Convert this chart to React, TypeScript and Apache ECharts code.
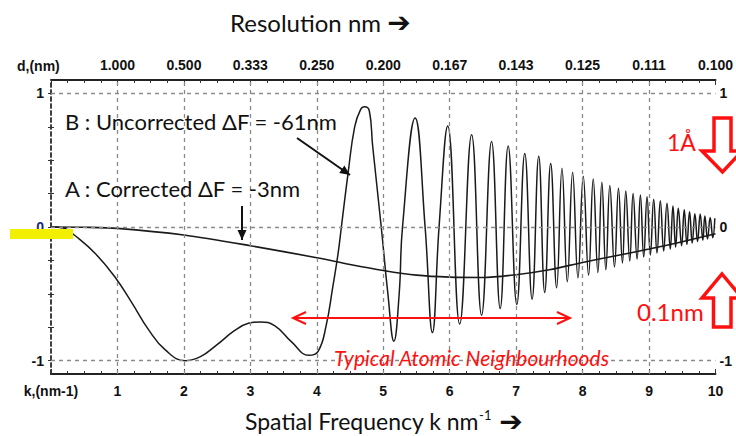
import React, { useEffect, useRef } from "react";
import * as echarts from "echarts";

// ---- data ----
const kLabels = ["", "1", "2", "3", "4", "5", "6", "7", "8", "9", "10"];
const dLabels = ["", "1.000", "0.500", "0.333", "0.250", "0.200", "0.167", "0.143", "0.125", "0.111", "0.100"];
const yLabelValues = [-1, 0, 1];
const yTickValues = [-1, -0.75, -0.5, -0.25, 0, 0.25, 0.5, 0.75, 1];
const gridK = [1, 2, 3, 4, 5, 6, 7, 8, 9];
const gridY = [-1, 0, 1];

// Curve A : Corrected dF = -3nm
const curveAK = [0, 0.5, 1, 2, 3, 4, 4.5, 5, 5.5, 6, 6.5, 7, 7.5, 8, 8.5, 9, 9.5, 10];
const curveAV = [0, -0.002, -0.01, -0.06, -0.14, -0.23, -0.28, -0.325, -0.36, -0.375, -0.378, -0.357, -0.32, -0.265, -0.215, -0.165, -0.11, -0.05];

// Curve B : Uncorrected dF = -61nm (extrema and crossings)
const curveBK = [
  0, 0.2, 0.35, 0.67, 0.97, 1.22, 1.47, 1.72, 2.02, 2.25, 2.5, 2.75, 2.97, 3.15, 3.37, 3.62, 3.88, 4.02,
  4.14, 4.24, 4.32, 4.37, 4.47, 4.57, 4.66, 4.72, 4.79, 4.84, 4.97, 5.07, 5.16, 5.24, 5.29, 5.48, 5.63,
  5.74, 5.84, 5.97, 6.15, 6.33, 6.48, 6.63, 6.76, 6.88, 7.01, 7.13, 7.24, 7.34, 7.43, 7.52, 7.61, 7.69,
  7.77, 7.85, 7.93, 8.01, 8.09, 8.16, 8.23, 8.29, 8.35, 8.41, 8.48, 8.54, 8.6, 8.65, 8.71, 8.76, 8.82,
  8.87, 8.92, 8.97, 9.02, 9.07, 9.12, 9.17, 9.22, 9.27, 9.32, 9.36, 9.4, 9.44, 9.49, 9.53, 9.57, 9.61,
  9.65, 9.69, 9.73, 9.77, 9.81, 9.84, 9.88, 9.92, 9.96, 9.99,
];
const curveBV = [
  0, -0.01, -0.06, -0.2, -0.38, -0.57, -0.77, -0.92, -1.0, -0.97, -0.88, -0.78, -0.72, -0.71, -0.74, -0.86, -0.96, -0.93,
  -0.74, -0.45, -0.2, 0.0, 0.4, 0.75, 0.88, 0.9, 0.87, 0.61, 0.0, -0.5, -0.855, -0.5, 0.0, 0.815, 0.0,
  -0.79, 0.0, 0.756, -0.726, 0.69, -0.66, 0.64, -0.61, 0.607, -0.58, 0.55, -0.54, 0.53, -0.49, 0.475, -0.455, 0.44,
  -0.41, 0.41, -0.38, 0.38, -0.36, 0.36, -0.34, 0.335, -0.32, 0.31, -0.3, 0.29, -0.27, 0.27, -0.255, 0.25, -0.24,
  0.24, -0.225, 0.226, -0.21, 0.207, -0.195, 0.196, -0.18, 0.177, -0.165, 0.157, -0.15, 0.14, -0.14, 0.13, -0.13, 0.114,
  -0.12, 0.1, -0.11, 0.097, -0.1, 0.082, -0.09, 0.072, -0.08, 0.065,
];

const RED = "#ff1010";
const LBL = "'Liberation Sans', Arial, sans-serif";
const CAL = "Lato, 'DejaVu Sans', sans-serif";

function arrowHead(x1: number, y1: number, x2: number, y2: number, len: number, half: number) {
  const dx = x2 - x1, dy = y2 - y1;
  const L = Math.sqrt(dx * dx + dy * dy);
  const ux = dx / L, uy = dy / L;
  const bx = x2 - ux * len, by = y2 - uy * len;
  return [[x2, y2], [bx - uy * half, by + ux * half], [bx + uy * half, by - ux * half]];
}

function blackArrow(x1: number, y1: number, x2: number, y2: number) {
  return [
    { type: "line", z: 50, shape: { x1, y1, x2, y2 }, style: { stroke: "#111", lineWidth: 2 } },
    { type: "polygon", z: 50, shape: { points: arrowHead(x1, y1, x2, y2, 10, 4.5) }, style: { fill: "#111" } },
  ];
}

export default function App() {
  const ref = useRef<HTMLDivElement>(null);
  useEffect(() => {
    if (!ref.current) return;
    const chart = echarts.init(ref.current, null, { renderer: "svg" });
    const dataA = curveAK.map((k, i) => [k, curveAV[i]]);
    const dataB = curveBK.map((k, i) => [k, curveBV[i]]);

    const xCommon = {
      type: "value",
      min: 0,
      max: 10,
      interval: 1,
      splitLine: { show: false },
      axisLine: { show: true, onZero: false, lineStyle: { color: "#222", width: 2 } },
      axisTick: { show: true, inside: true, length: 5, lineStyle: { color: "#333" } },
      minorTick: { show: true, splitNumber: 4, length: 3, lineStyle: { color: "#333" } },
    };

    const yCommon = {
      type: "value",
      min: -1.1,
      max: 1.1,
      splitLine: { show: false },
      axisLine: { show: true, lineStyle: { color: "#333", width: 1.5, type: [4, 3] } },
      axisTick: { show: true, inside: true, length: 3, customValues: yTickValues, lineStyle: { color: "#333" } },
    };

    const markData: any[] = [
      ...gridK.map((k) => ({ xAxis: k })),
      ...gridY.map((v) => ({ yAxis: v })),
    ];

    const lblStyle = { fontFamily: LBL, fontSize: 14, fontWeight: "bold", color: "#111" };
    const arrRich = { fontFamily: "'DejaVu Sans', sans-serif", fontWeight: "bold", fontSize: 28, fill: "#111" };

    chart.setOption({
      animation: false,
      grid: { left: 51, right: 16, top: 80, bottom: 62, containLabel: false },
      xAxis: [
        {
          ...xCommon,
          position: "bottom",
          axisLabel: { ...lblStyle, margin: 10, formatter: (v: number) => kLabels[Math.round(v)] ?? "" },
        },
        {
          ...xCommon,
          position: "top",
          axisLabel: { ...lblStyle, margin: 8, formatter: (v: number) => dLabels[Math.round(v)] ?? "" },
        },
      ],
      yAxis: [
        {
          ...yCommon,
          position: "left",
          axisLabel: {
            ...lblStyle,
            margin: 7,
            customValues: yLabelValues,
            color: (v: any) => (Number(v) === 0 ? "#1a2a7a" : "#111"),
            formatter: (v: number) => String(Math.round(v)),
          },
        },
        {
          ...yCommon,
          position: "right",
          axisLabel: {
            ...lblStyle,
            margin: 4,
            customValues: yLabelValues,
            formatter: (v: number) => String(Math.round(v)),
          },
        },
      ],
      series: [
        {
          name: "A",
          type: "line",
          z: 3,
          data: dataA,
          showSymbol: false,
          smooth: 0.3,
          lineStyle: { color: "#1a1a1a", width: 1.6 },
          markLine: {
            silent: true,
            symbol: ["none", "none"],
            label: { show: false },
            lineStyle: { color: "#8a8a8a", type: [4, 4], width: 1.3 },
            data: markData,
          },
        },
        {
          name: "B",
          type: "line",
          z: 4,
          data: dataB,
          showSymbol: false,
          smooth: 0.45,
          lineStyle: { color: "#1a1a1a", width: 1.5 },
        },
      ],
      graphic: [
        {
          type: "text",
          z: 50,
          style: {
            text: "Resolution nm {arr|➔}", x: 230, y: 22, fontFamily: CAL, fontSize: 24, fill: "#111", align: "left", verticalAlign: "middle",
            rich: { arr: arrRich },
          },
        },
        { type: "text", z: 50, style: { text: "d,(nm)", x: 17, y: 66, fontFamily: LBL, fontSize: 14, fontWeight: "bold", fill: "#111", align: "left", verticalAlign: "middle" } },
        { type: "text", z: 50, style: { text: "k,(nm-1)", x: 51, y: 391, fontFamily: LBL, fontSize: 14, fontWeight: "bold", fill: "#111", align: "center", verticalAlign: "middle" } },
        { type: "text", z: 50, style: { text: "B : Uncorrected ΔF = -61nm", x: 65, y: 121, fontFamily: CAL, fontSize: 22, fill: "#111", align: "left", verticalAlign: "middle" } },
        { type: "text", z: 50, style: { text: "A : Corrected ΔF = -3nm", x: 65, y: 188, fontFamily: CAL, fontSize: 22, fill: "#111", align: "left", verticalAlign: "middle" } },
        ...blackArrow(297, 138, 350, 175),
        ...blackArrow(242, 206, 242, 240),
        { type: "rect", z: 60, shape: { x: 10, y: 229, width: 63, height: 10 }, style: { fill: "#f2f000" } },
        { type: "line", z: 50, shape: { x1: 293, y1: 318, x2: 570, y2: 318 }, style: { stroke: RED, lineWidth: 2 } },
        { type: "polyline", z: 50, shape: { points: [[306, 312], [293, 318], [306, 324]] }, style: { stroke: RED, lineWidth: 2, fill: "none" } },
        { type: "polyline", z: 50, shape: { points: [[557, 312], [570, 318], [557, 324]] }, style: { stroke: RED, lineWidth: 2, fill: "none" } },
        { type: "text", z: 50, style: { text: "Typical Atomic Neighbourhoods", x: 334, y: 357, fontFamily: CAL, fontSize: 21, fontStyle: "italic", fill: RED, align: "left", verticalAlign: "middle" } },
        { type: "polygon", z: 55, shape: { points: [[714, 118], [731, 118], [731, 151], [742, 151], [722.5, 172], [702, 151], [714, 151]] }, style: { fill: "#fff", stroke: RED, lineWidth: 3.5 } },
        { type: "polygon", z: 55, shape: { points: [[722, 274], [742, 298], [731, 298], [731, 327], [713.5, 327], [713.5, 298], [702, 298]] }, style: { fill: "#fff", stroke: RED, lineWidth: 3.5 } },
        { type: "text", z: 56, style: { text: "1Å", x: 667, y: 142, fontFamily: CAL, fontSize: 23, fill: RED, align: "left", verticalAlign: "middle" } },
        { type: "text", z: 56, style: { text: "0.1nm", x: 637, y: 311, fontFamily: CAL, fontSize: 24, fill: RED, align: "left", verticalAlign: "middle" } },
        {
          type: "text",
          z: 50,
          style: {
            text: "Spatial Frequency k nm{sup|-1} {arr|➔}",
            x: 245,
            y: 421,
            fontFamily: CAL,
            fontSize: 23,
            lineHeight: 24,
            fill: "#111",
            align: "left",
            verticalAlign: "middle",
            rich: {
              sup: { fontFamily: CAL, fontSize: 13, fill: "#111", padding: [0, 2, 12, 0] },
              arr: { ...arrRich, lineHeight: 24 },
            },
          },
        },
      ],
    });
    return () => chart.dispose();
  }, []);
  return <div ref={ref} style={{ width: 736, height: 436, position: "fixed", left: 0, top: 0, background: "#fff" }} />;
}
